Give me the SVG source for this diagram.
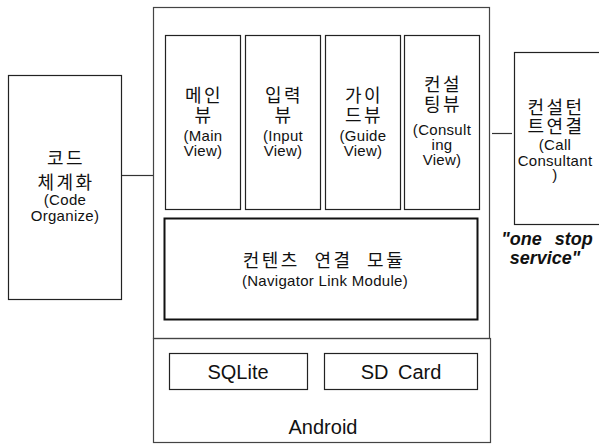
<svg xmlns="http://www.w3.org/2000/svg" width="599" height="444" viewBox="0 0 599 444">
<style>
.box{fill:#fff;stroke:#222;stroke-width:1.2}
.outer{fill:none;stroke:#444;stroke-width:1.2}
.nav{fill:#fff;stroke:#111;stroke-width:2}
.ko{font-family:"Noto Sans CJK KR","Noto Sans",sans-serif;font-size:18px;fill:#111;text-anchor:middle;letter-spacing:2.5px}
.en{font-family:"Liberation Sans",Arial,sans-serif;font-size:15px;fill:#111;text-anchor:middle;letter-spacing:0.3px}
.big{font-family:"Liberation Sans",Arial,sans-serif;font-size:20px;fill:#111;text-anchor:middle}
.slogan{font-family:"Liberation Sans",Arial,sans-serif;font-size:18px;font-weight:bold;font-style:italic;fill:#111;text-anchor:middle;word-spacing:8px}
.conn{stroke:#333;stroke-width:1.2;fill:none}
</style>
<rect width="599" height="444" fill="#fff"/>
<g id="connectors">
<line class="conn" x1="121" y1="175.5" x2="153" y2="175.5"/>
<line class="conn" x1="492" y1="133.5" x2="512" y2="133.5"/>
</g>
<g id="app">
<rect class="outer" x="153.5" y="7.5" width="336" height="331"/>
</g>
<g id="android">
<rect class="outer" x="153.5" y="338.5" width="337" height="104"/>
<text class="big" x="323" y="434">Android</text>
</g>
<g id="code">
<rect class="box" x="8.5" y="75.5" width="113" height="224"/>
<text class="ko" x="66" y="165">코드</text>
<text class="ko" x="66" y="189">체계화</text>
<text class="en" x="65" y="205">(Code</text>
<text class="en" x="65" y="221">Organize)</text>
</g>
<g id="mainview">
<rect class="box" x="165.5" y="35.5" width="75" height="174"/>
<text class="ko" x="204" y="102">메인</text>
<text class="ko" x="204" y="122">뷰</text>
<text class="en" x="203" y="141">(Main</text>
<text class="en" x="203" y="156">View)</text>
</g>
<g id="inputview">
<rect class="box" x="245.5" y="35.5" width="75" height="174"/>
<text class="ko" x="284" y="102">입력</text>
<text class="ko" x="284" y="122">뷰</text>
<text class="en" x="283" y="141">(Input</text>
<text class="en" x="283" y="156">View)</text>
</g>
<g id="guideview">
<rect class="box" x="325.5" y="35.5" width="75" height="174"/>
<text class="ko" x="364" y="102">가이</text>
<text class="ko" x="364" y="122">드뷰</text>
<text class="en" x="363" y="141">(Guide</text>
<text class="en" x="363" y="156">View)</text>
</g>
<g id="consultingview">
<rect class="box" x="404.5" y="35.5" width="75" height="174"/>
<text class="ko" x="443" y="91">컨설</text>
<text class="ko" x="443" y="111">팅뷰</text>
<text class="en" x="442" y="135">(Consult</text>
<text class="en" x="442" y="150">ing</text>
<text class="en" x="442" y="165">View)</text>
</g>
<g id="navigator">
<rect class="nav" x="164.5" y="218.5" width="313" height="101"/>
<text class="ko" x="324" y="267" style="word-spacing:8px">컨텐츠 연결 모듈</text>
<text class="en" x="325" y="286">(Navigator Link Module)</text>
</g>
<g id="sqlite">
<rect class="box" x="169.5" y="353.5" width="138" height="36"/>
<text class="big" x="238" y="379">SQLite</text>
</g>
<g id="sdcard">
<rect class="box" x="324.5" y="353.5" width="153" height="36"/>
<text class="big" x="401" y="379" style="word-spacing:4px">SD Card</text>
</g>
<g id="callconsultant">
<rect class="box" x="514.5" y="52.5" width="90" height="172"/>
<text class="ko" x="556" y="114">컨설턴</text>
<text class="ko" x="556" y="133">트연결</text>
<text class="en" x="555" y="150">(Call</text>
<text class="en" x="555" y="166">Consultant</text>
<text class="en" x="555" y="180">)</text>
<text class="slogan" x="547" y="245">"one stop</text>
<text class="slogan" x="545" y="264">service"</text>
</g>
</svg>
